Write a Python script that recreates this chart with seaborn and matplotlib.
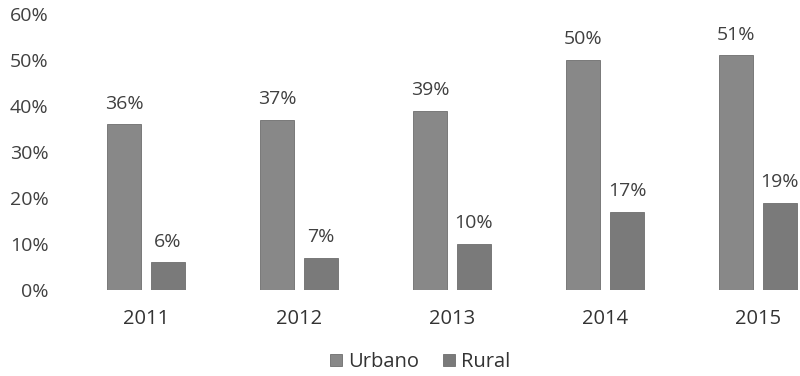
import matplotlib
matplotlib.use("Agg")
import matplotlib.pyplot as plt
import seaborn as sns
import pandas as pd
from matplotlib.patches import Patch

years = ["2011", "2012", "2013", "2014", "2015"]
urbano = [36, 37, 39, 50, 51]
rural = [6, 7, 10, 17, 19]
series_names = ["Urbano", "Rural"]
y_ticks = [0, 10, 20, 30, 40, 50, 60]

df = pd.DataFrame({
    "year": years * 2,
    "value": urbano + rural,
    "serie": [series_names[0]] * len(years) + [series_names[1]] * len(years),
})

sns.set_theme(style="white")
plt.rcParams["font.family"] = ["Open Sans", "DejaVu Sans"]

colors = {"Urbano": "#888888", "Rural": "#7a7a7a"}
text_color = "#404040"

fig = plt.figure(figsize=(8.0, 3.76), dpi=100)
ax = fig.add_axes([0.0869, 0.2287, 0.9131, 0.7341])

sns.barplot(data=df, x="year", y="value", hue="serie", order=years,
            hue_order=series_names, palette=colors, width=0.575, gap=0.227,
            edgecolor="#6e6e6e", linewidth=0.6, legend=False, ax=ax)

for container, vals in zip(ax.containers, [urbano, rural]):
    ax.bar_label(container, labels=[f"{v}%" for v in vals], padding=8.5,
                 fontsize=14, color=text_color)

ax.set_ylim(0, 60)
ax.set_xlim(-0.5, 4.275)
ax.set_yticks(y_ticks)
ax.set_yticklabels([f"{t}%" for t in y_ticks])
ax.tick_params(axis="y", length=0, pad=15, labelsize=14, labelcolor=text_color)
ax.tick_params(axis="x", length=0, pad=14, labelsize=14.5, labelcolor="#333333")
ax.set_xlabel("")
ax.set_ylabel("")
for s in ax.spines.values():
    s.set_visible(False)

handles = [Patch(facecolor=colors[n], edgecolor="#6e6e6e", linewidth=0.6) for n in series_names]
fig.legend(handles, series_names, loc="lower center", bbox_to_anchor=(0.525, -0.038),
           ncol=2, frameon=False, fontsize=14.5, handlelength=0.6, handleheight=0.6,
           handletextpad=0.3, columnspacing=1.2, labelcolor="#333333")

fig.savefig("out.png", dpi=100)
